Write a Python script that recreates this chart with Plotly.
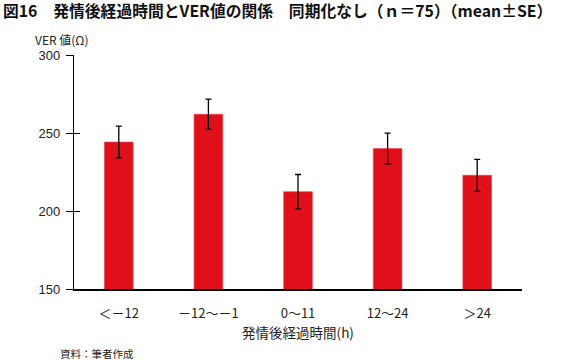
import plotly.graph_objects as go

categories = ["＜－12", "－12～－1", "0～11", "12～24", "＞24"]
means = [244.2, 262.0, 212.4, 240.0, 222.9]
se = [10.2, 9.7, 11.0, 9.9, 10.2]
y_ticks = [150, 200, 250, 300]

FONT = "Noto Sans CJK JP"

fig = go.Figure()
fig.add_trace(go.Bar(
    x=categories, y=means,
    marker=dict(color="#E0101A", line=dict(color="#E8404A", width=0.6)),
    error_y=dict(type="data", array=se, visible=True, color="black", thickness=1.3, width=3),
    showlegend=False,
))
# invisible trace on overlay axis for inside ticks
fig.add_trace(go.Scatter(x=categories, y=means, yaxis="y2", mode="markers",
                         marker=dict(opacity=0), showlegend=False, hoverinfo="skip"))

fig.update_layout(
    width=579, height=360,
    margin=dict(l=74, r=57, t=55, b=71),
    paper_bgcolor="white", plot_bgcolor="white",
    bargap=0.68,
    font=dict(family=FONT, color="#222", size=12),
    xaxis=dict(range=[-0.5, 4.5], showline=True, linecolor="black", linewidth=1.5,
               ticks="", showgrid=False, tickfont=dict(size=13, family=FONT),
               ticklabelstandoff=12,
               title=dict(text="発情後経過時間(h)", font=dict(size=13.5, family=FONT), standoff=2)),
    yaxis=dict(range=[150, 300], tickvals=y_ticks, showline=True, linecolor="black", linewidth=1.2,
               ticks="outside", ticklen=7, tickcolor="black", tickwidth=1.2, showgrid=False,
               zeroline=False, ticklabelstandoff=3, tickfont=dict(size=13, family="Liberation Sans")),
    yaxis2=dict(range=[150, 300], tickvals=y_ticks, overlaying="y", side="left",
                showline=False, ticks="inside", ticklen=6, tickcolor="black", tickwidth=1.2,
                showticklabels=False, showgrid=False, zeroline=False),
    annotations=[
        dict(text="<b>図16　発情後経過時間とVER値の関係　同期化なし（ｎ＝75）（mean±SE）</b>",
             xref="paper", yref="paper", x=-73/448, y=1 + 45/234, xanchor="left", yanchor="middle",
             showarrow=False, font=dict(size=15.8, family=FONT, color="#111")),
        dict(text="VER 値(Ω)", xref="paper", yref="paper", x=-41/448, y=1 + 16/234,
             xanchor="left", yanchor="middle", showarrow=False, font=dict(size=12, family=FONT)),
        dict(text="資料：筆者作成", xref="paper", yref="paper", x=-16/448, y=-64/234,
             xanchor="left", yanchor="middle", showarrow=False, font=dict(size=10.5, family=FONT)),
    ],
)

fig.write_html("out.html", config={"displayModeBar": False},
               post_script="document.body.style.margin='0';document.body.style.padding='0';")
